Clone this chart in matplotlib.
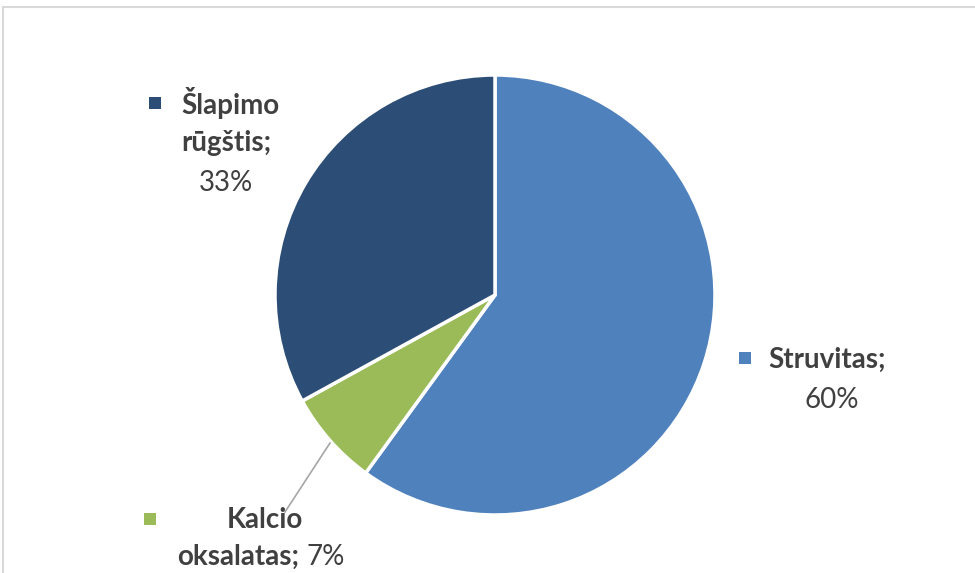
import matplotlib.pyplot as plt
from matplotlib.patches import Rectangle

labels = ['Struvitas', 'Kalcio oksalatas', 'Šlapimo rūgštis']
values = [60, 7, 33]
colors = ['#4F81BD', '#9BBB59', '#2C4D75']

W, H = 975, 573
plt.rcParams['font.family'] = ['Lato', 'DejaVu Sans']

fig = plt.figure(figsize=(W / 100, H / 100), dpi=100)
ax = fig.add_axes([0, 0, 1, 1])

# pie in pixel-like data units (y measured from the bottom)
ax.pie(values, colors=colors, startangle=90, counterclock=False,
       center=(495, H - 295), radius=220, frame=True,
       wedgeprops=dict(edgecolor='white', linewidth=2.5))
ax.set_xlim(0, W)
ax.set_ylim(0, H)
ax.set_aspect('equal')
ax.axis('off')

txt = '#404040'
fs = 20


def y(p):
    return H - p


def marker(x, yy, c):
    ax.add_patch(Rectangle((x - 6, y(yy) - 6), 12, 12, color=c, lw=0))


# Struvitas
marker(745, 358, colors[0])
ax.text(768, y(360), 'Struvitas;', fontsize=fs, fontweight='bold', color=txt,
        ha='left', va='center')
ax.text(832, y(400), f'{values[0]}%', fontsize=fs, color=txt, ha='center', va='center')

# Šlapimo rūgštis
marker(155, 103, colors[2])
ax.text(230, y(103), 'Šlapimo', fontsize=fs, fontweight='bold', color=txt,
        ha='center', va='center')
ax.text(226, y(143), 'rūgštis;', fontsize=fs, fontweight='bold', color=txt,
        ha='center', va='center')
ax.text(226, y(183), f'{values[2]}%', fontsize=fs, color=txt, ha='center', va='center')

# Kalcio oksalatas
ax.plot([330, 285], [y(443), y(512)], color='#A6A6A6', lw=1.2)
marker(150, 519, colors[1])
ax.text(265, y(520), 'Kalcio', fontsize=fs, fontweight='bold', color=txt,
        ha='center', va='center')
ax.text(299, y(557), 'oksalatas;', fontsize=fs, fontweight='bold', color=txt,
        ha='right', va='center')
ax.text(307, y(557), f'{values[1]}%', fontsize=fs, color=txt, ha='left', va='center')

# chart frame (only top/left edges visible)
fig.patches.append(Rectangle((3 / W, -0.1), 1.2, 1 - 7 / H + 0.1,
                             transform=fig.transFigure, fill=False,
                             edgecolor='#D9D9D9', lw=1.5))

fig.savefig('out.png', dpi=100)
